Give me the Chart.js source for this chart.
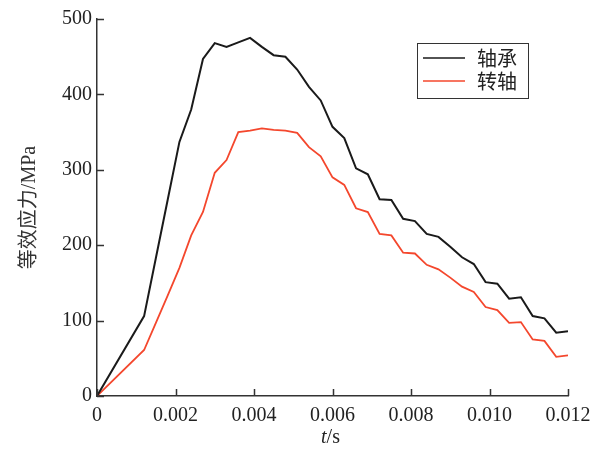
<!DOCTYPE html>
<html>
<head>
<meta charset="utf-8">
<script src="https://cdn.jsdelivr.net/npm/chart.js@4.4.0/dist/chart.umd.min.js"></script>
<style>
  html, body { margin: 0; padding: 0; background: #fff; }
  #wrap { width: 603px; height: 456px; }
</style>
</head>
<body>
<div id="wrap"><canvas id="myChart" width="603" height="456"></canvas></div>
<script>
// time (s)
var times = [0, 0.0012, 0.0015, 0.0018, 0.0021, 0.0024, 0.0027, 0.0030, 0.0033, 0.0036,
    0.0039, 0.0042, 0.0045, 0.0048, 0.0051, 0.0054, 0.0057, 0.0060, 0.0063, 0.0066,
    0.0069, 0.0072, 0.0075, 0.0078, 0.0081, 0.0084, 0.0087, 0.0090, 0.0093, 0.0096,
    0.0099, 0.0102, 0.0105, 0.0108, 0.0111, 0.0114, 0.0117, 0.0120];
// bearing (轴承)
var bearing = [0, 106, 183, 260, 337, 380, 447, 468, 463, 469,
    475, 463, 452, 450, 433, 410, 392, 357, 342, 302,
    294, 261, 260, 235, 232, 215, 211, 198, 184, 175,
    151, 149, 129, 131, 106, 103, 84, 86];
// shaft (转轴)
var shaft = [0, 61, 97, 133, 170, 213, 244, 296, 313, 350,
    352, 355, 353, 352, 349, 330, 318, 290, 280, 249,
    244, 215, 213, 190, 189, 174, 168, 157, 145, 138,
    118, 114, 97, 98, 75, 73, 52, 54];
var seriesNames = ['轴承', '转轴'];
var xTickLabels = ['0', '0.002', '0.004', '0.006', '0.008', '0.010', '0.012'];
var yTickLabels = ['0', '100', '200', '300', '400', '500'];

var serif = '"Liberation Serif", "Times New Roman", serif';
var cjk = '"Liberation Serif", "Noto Sans CJK SC", serif';

function pts(ys) {
    return times.map(function (t, i) { return {x: t, y: ys[i]}; });
}

// inward ticks, legend box and x title
var decorations = {
    id: 'decorations',
    afterDraw: function (chart) {
        var ctx = chart.ctx;
        var a = chart.chartArea;
        var xs = chart.scales.x, ys = chart.scales.y;
        ctx.save();
        ctx.strokeStyle = '#333';
        ctx.lineWidth = 1.5;
        ctx.beginPath();
        xs.ticks.forEach(function (t) {
            var px = Math.round(xs.getPixelForValue(t.value)) + 0.5;
            ctx.moveTo(px, a.bottom);
            ctx.lineTo(px, a.bottom - 7);
        });
        ys.ticks.forEach(function (t) {
            var py = Math.round(ys.getPixelForValue(t.value)) + 0.5;
            ctx.moveTo(a.left, py);
            ctx.lineTo(a.left + 7, py);
        });
        ctx.stroke();

        // legend
        var bx = 417.5, by = 43.5, bw = 111, bh = 55;
        ctx.lineWidth = 1;
        ctx.strokeStyle = '#333';
        ctx.strokeRect(bx, by, bw, bh);
        chart.data.datasets.forEach(function (ds, i) {
            var ly = 58 + i * 23;
            ctx.strokeStyle = ds.borderColor;
            ctx.lineWidth = 1.5;
            ctx.beginPath();
            ctx.moveTo(423, ly);
            ctx.lineTo(465, ly);
            ctx.stroke();
            ctx.fillStyle = '#222';
            ctx.font = '20px "Noto Sans CJK SC"';
            ctx.textBaseline = 'middle';
            ctx.textAlign = 'left';
            ctx.fillText(ds.label, 477, ly);
        });

        // x title: italic t + /s
        ctx.fillStyle = '#222';
        ctx.textBaseline = 'middle';
        ctx.textAlign = 'left';
        var cx = (a.left + a.right) / 2 - 2;
        var ty = 438;
        ctx.font = 'italic 20px ' + serif;
        var w1 = ctx.measureText('t').width;
        ctx.font = '20px ' + serif;
        var w2 = ctx.measureText('/s').width;
        var sx = cx - (w1 + w2) / 2;
        ctx.font = 'italic 20px ' + serif;
        ctx.fillText('t', sx, ty);
        ctx.font = '20px ' + serif;
        ctx.fillText('/s', sx + w1, ty);
        ctx.restore();
    }
};

var ctx = document.getElementById('myChart').getContext('2d');
var chart = new Chart(ctx, {
    type: 'line',
    data: {
        datasets: [{
            label: seriesNames[0],
            data: pts(bearing),
            borderColor: '#1a1a1a',
            borderWidth: 2,
            pointRadius: 0,
            tension: 0,
            fill: false
        }, {
            label: seriesNames[1],
            data: pts(shaft),
            borderColor: '#f4472d',
            borderWidth: 1.8,
            pointRadius: 0,
            tension: 0,
            fill: false
        }]
    },
    options: {
        responsive: false,
        animation: false,
        layout: { padding: { left: 0, right: 35, top: 19, bottom: 0 } },
        plugins: { legend: { display: false }, tooltip: { enabled: false } },
        scales: {
            x: {
                type: 'linear',
                min: 0,
                max: 0.012,
                grid: { display: true, drawOnChartArea: false, drawTicks: false },
                border: { display: true, color: '#333', width: 1.5 },
                ticks: {
                    stepSize: 0.002,
                    padding: 8,
                    maxRotation: 0,
                    color: '#222',
                    font: { family: serif, size: 20 },
                    callback: function (v, i) { return xTickLabels[i]; }
                },
                afterFit: function (s) { s.height = 60; }
            },
            y: {
                min: 0,
                max: 500,
                grid: { display: true, drawOnChartArea: false, drawTicks: false },
                border: { display: true, color: '#333', width: 1.5 },
                ticks: {
                    stepSize: 100,
                    padding: 5,
                    color: '#222',
                    font: { family: serif, size: 20 },
                    callback: function (v, i) { return yTickLabels[i]; }
                },
                title: {
                    display: true,
                    text: '等效应力/MPa',
                    color: '#333',
                    font: { family: cjk, size: 20 },
                    padding: { top: 18, bottom: 0 }
                },
                afterFit: function (s) { s.width = 97; }
            }
        }
    },
    plugins: [decorations]
});
</script>
</body>
</html>
